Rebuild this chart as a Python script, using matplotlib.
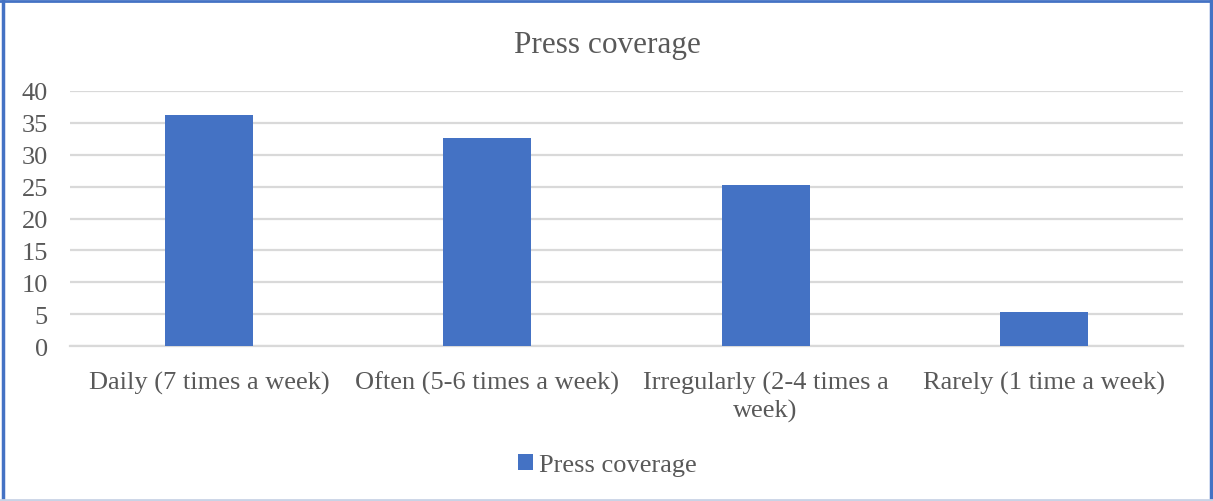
import matplotlib
matplotlib.use("Agg")
import matplotlib.pyplot as plt
from matplotlib.lines import Line2D
from matplotlib.patches import Patch

categories = ["Daily (7 times a week)", "Often (5-6 times a week)",
              "Irregularly (2-4 times a\nweek)", "Rarely (1 time a week)"]
values = [36.3, 32.6, 25.3, 5.3]
series_name = "Press coverage"
yticks = [0, 5, 10, 15, 20, 25, 30, 35, 40]

W, H = 1213, 502
plt.rcParams["font.family"] = ["Liberation Serif", "DejaVu Serif"]
text_color = "#595959"
bar_color = "#4472C4"
grid_color = "#D9D9D9"

fig = plt.figure(figsize=(W / 100, H / 100), dpi=100)
ax = fig.add_axes([70 / W, 1 - 347 / H, (1183 - 70) / W, (347 - 92) / H])

x = range(len(categories))
ax.bar(x, values, width=0.316, color=bar_color, zorder=3)
ax.set_xlim(-0.5, len(categories) - 0.5)
ax.set_ylim(0, 40)
ax.set_yticks(yticks)
ax.yaxis.grid(True, color=grid_color, linewidth=1.6, zorder=0)
ax.tick_params(axis="both", length=0, labelsize=19, labelcolor=text_color)
ax.tick_params(axis="y", pad=16)
ax.tick_params(axis="x", pad=18)
ax.set_xticks(list(x))
ax.set_xticklabels(categories, linespacing=1.3)
for s in ["left", "right", "top"]:
    ax.spines[s].set_visible(False)
ax.spines["bottom"].set_color(grid_color)
ax.spines["bottom"].set_linewidth(1.6)

fig.text(607 / W, 1 - 46 / H, series_name, ha="center", va="center",
         fontsize=22.5, color=text_color)

handle = Patch(facecolor=bar_color, edgecolor="none")
fig.legend([handle], [series_name], loc="center", bbox_to_anchor=(607 / W, 1 - 466 / H),
           frameon=False, fontsize=19, labelcolor=text_color,
           handlelength=0.6, handleheight=0.6, handletextpad=0.2)

# Outer frame
border = "#4472C4"
fig.add_artist(Line2D([2.5 / W, 2.5 / W], [0, 1], color=border, lw=2.5))
fig.add_artist(Line2D([1210.5 / W, 1210.5 / W], [0, 1], color=border, lw=2.5))
fig.add_artist(Line2D([0, 1], [1 - 2 / H, 1 - 2 / H], color=border, lw=2.0))
fig.add_artist(Line2D([0, 1], [1 - 500.5 / H, 1 - 500.5 / H], color="#C9D3E6", lw=2.0))

fig.savefig("out.png", dpi=100)
